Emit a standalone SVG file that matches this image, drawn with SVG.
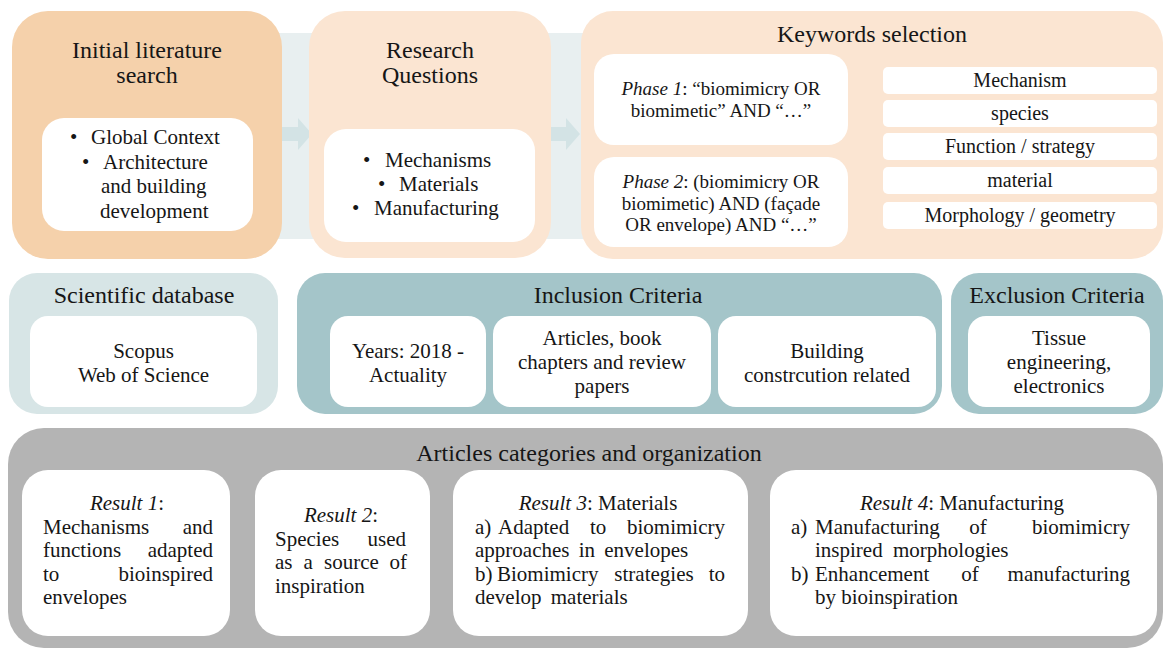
<svg xmlns="http://www.w3.org/2000/svg" width="1163" height="650" viewBox="0 0 1163 650">
<style>
text { font-family: "Liberation Serif", "DejaVu Serif", serif; fill: #161616; }
.tt { font-size: 24px; }
.bd { font-size: 21px; }
.kw { font-size: 20px; }
.ph { font-size: 19px; }
.rs { font-size: 21px; }
.c { text-anchor: middle; }
.e { text-anchor: end; }
.i { font-style: italic; }
.w { fill: #ffffff; }
.pk1 { fill: #f5d1ab; }
.pk2 { fill: #fbe5d2; }
.tl1 { fill: #d7e5e6; }
.tl2 { fill: #a4c5c9; }
.gr { fill: #b4b4b4; }
.br { stroke: #9cc3c7; stroke-width: 2; fill: none; }
.ar { fill: #d3e3e5; }
</style>

<!-- background band -->
<rect x="270" y="33" width="330" height="206" fill="#e8eff0"/>

<g id="connectors">
  <polygon class="ar" points="282,127 298,127 298,118 312,134 298,150 298,141 282,141"/>
  <polygon class="ar" points="551,127 566,127 566,118 580,134 566,150 566,141 551,141"/>
  <path class="br" d="M848,100 H866 M848,203 H866 M866,80 V215 M866,80 H883 M866,113 H883 M866,147 H883 M866,180 H883 M866,215 H883"/>
</g>

<g id="initial-literature">
  <rect class="pk1" x="12" y="11" width="270" height="248" rx="36"/>
  <text class="tt c" x="147" y="58">Initial literature</text>
  <text class="tt c" x="147" y="83">search</text>
  <rect class="w" x="42" y="118" width="211" height="113" rx="22"/>
  <text class="bd" x="70" y="144">•</text>
  <text class="bd" x="91" y="144">Global Context</text>
  <text class="bd" x="82" y="169">•</text>
  <text class="bd" x="103" y="169">Architecture</text>
  <text class="bd" x="101" y="193">and building</text>
  <text class="bd" x="100" y="218">development</text>
</g>

<g id="research-questions">
  <rect class="pk2" x="309" y="11" width="242" height="247" rx="36"/>
  <text class="tt c" x="430" y="58">Research</text>
  <text class="tt c" x="430" y="83">Questions</text>
  <rect class="w" x="324" y="129" width="211" height="113" rx="22"/>
  <text class="bd" x="363" y="167">•</text>
  <text class="bd" x="385" y="167">Mechanisms</text>
  <text class="bd" x="378" y="191">•</text>
  <text class="bd" x="399" y="191">Materials</text>
  <text class="bd" x="352" y="215">•</text>
  <text class="bd" x="374" y="215">Manufacturing</text>
</g>

<g id="keywords-selection">
  <rect class="pk2" x="581" y="11" width="582" height="248" rx="32"/>
  <text class="tt c" x="872" y="42">Keywords selection</text>
</g>

<g id="phase1">
  <rect class="w" x="594" y="54" width="254" height="91" rx="20"/>
  <text class="ph c" x="721" y="95"><tspan class="i">Phase 1</tspan>: “biomimicry OR</text>
  <text class="ph c" x="721" y="117">biomimetic” AND “…”</text>
</g>

<g id="phase2">
  <rect class="w" x="594" y="157" width="254" height="90" rx="20"/>
  <text class="ph c" x="721" y="188"><tspan class="i">Phase 2</tspan>: (biomimicry OR</text>
  <text class="ph c" x="721" y="209.5">biomimetic) AND (façade</text>
  <text class="ph c" x="721" y="231">OR envelope) AND “…”</text>
</g>

<g id="kw-mechanism">
  <rect class="w" x="883" y="67" width="274" height="27" rx="5"/>
  <text class="kw c" x="1020" y="87">Mechanism</text>
</g>
<g id="kw-species">
  <rect class="w" x="883" y="100" width="274" height="27" rx="5"/>
  <text class="kw c" x="1020" y="119.5">species</text>
</g>
<g id="kw-function">
  <rect class="w" x="883" y="133" width="274" height="27" rx="5"/>
  <text class="kw c" x="1020" y="153">Function / strategy</text>
</g>
<g id="kw-material">
  <rect class="w" x="883" y="167" width="274" height="27" rx="5"/>
  <text class="kw c" x="1020" y="186.5">material</text>
</g>
<g id="kw-morphology">
  <rect class="w" x="883" y="202" width="274" height="27" rx="5"/>
  <text class="kw c" x="1020" y="221.5">Morphology / geometry</text>
</g>

<g id="scientific-database">
  <rect class="tl1" x="9" y="273" width="269" height="141" rx="28"/>
  <text class="tt c" x="144" y="303">Scientific database</text>
  <rect class="w" x="30" y="316" width="227" height="91" rx="18"/>
  <text class="bd c" x="143.5" y="358">Scopus</text>
  <text class="bd c" x="143.5" y="382">Web of Science</text>
</g>

<g id="inclusion-criteria">
  <rect class="tl2" x="297" y="273" width="645" height="141" rx="28"/>
  <text class="tt c" x="618" y="303">Inclusion Criteria</text>
</g>
<g id="inc-years">
  <rect class="w" x="330" y="316" width="156" height="91" rx="18"/>
  <text class="bd c" x="408" y="358">Years: 2018 -</text>
  <text class="bd c" x="408" y="382">Actuality</text>
</g>
<g id="inc-articles">
  <rect class="w" x="493" y="316" width="218" height="91" rx="18"/>
  <text class="bd c" x="602" y="345">Articles, book</text>
  <text class="bd c" x="602" y="369">chapters and review</text>
  <text class="bd c" x="602" y="393">papers</text>
</g>
<g id="inc-building">
  <rect class="w" x="718" y="316" width="218" height="91" rx="18"/>
  <text class="bd c" x="827" y="358">Building</text>
  <text class="bd c" x="827" y="382">constrcution related</text>
</g>

<g id="exclusion-criteria">
  <rect class="tl2" x="951" y="273" width="212" height="141" rx="28"/>
  <text class="tt c" x="1057" y="303">Exclusion Criteria</text>
  <rect class="w" x="968" y="316" width="182" height="91" rx="18"/>
  <text class="bd c" x="1059" y="345">Tissue</text>
  <text class="bd c" x="1059" y="369">engineering,</text>
  <text class="bd c" x="1059" y="393">electronics</text>
</g>

<g id="articles-categories">
  <rect class="gr" x="8" y="428" width="1155" height="220" rx="36"/>
  <text class="tt c" x="589" y="461">Articles categories and organization</text>
</g>

<g id="result1">
  <rect class="w" x="22" y="470" width="208" height="166" rx="26"/>
  <text class="rs c" x="127" y="510"><tspan class="i">Result 1</tspan>:</text>
  <text class="rs" x="43" y="533.5">Mechanisms</text>
  <text class="rs e" x="213" y="533.5">and</text>
  <text class="rs" x="43" y="557">functions</text>
  <text class="rs e" x="213" y="557">adapted</text>
  <text class="rs" x="43" y="580.5">to</text>
  <text class="rs e" x="213" y="580.5">bioinspired</text>
  <text class="rs" x="43" y="604">envelopes</text>
</g>

<g id="result2">
  <rect class="w" x="255" y="470" width="175" height="166" rx="26"/>
  <text class="rs c" x="341" y="522"><tspan class="i">Result 2</tspan>:</text>
  <text class="rs" x="275" y="545.5">Species</text>
  <text class="rs e" x="406" y="545.5">used</text>
  <text class="rs" x="275" y="569">as</text>
  <text class="rs" x="303.5" y="569">a</text>
  <text class="rs" x="324" y="569">source</text>
  <text class="rs e" x="407" y="569">of</text>
  <text class="rs" x="275" y="592.5">inspiration</text>
</g>

<g id="result3">
  <rect class="w" x="453" y="470" width="295" height="166" rx="26"/>
  <text class="rs c" x="598" y="510"><tspan class="i">Result 3</tspan>: Materials</text>
  <text class="rs" x="475" y="533.5">a)</text>
  <text class="rs" x="498" y="533.5">Adapted</text>
  <text class="rs" x="590" y="533.5">to</text>
  <text class="rs e" x="725" y="533.5">biomimicry</text>
  <text class="rs" x="475" y="557" word-spacing="4">approaches in envelopes</text>
  <text class="rs" x="475" y="580.5">b)</text>
  <text class="rs" x="497" y="580.5">Biomimicry</text>
  <text class="rs c" x="654" y="580.5">strategies</text>
  <text class="rs e" x="725" y="580.5">to</text>
  <text class="rs" x="475" y="604" word-spacing="4">develop materials</text>
</g>

<g id="result4">
  <rect class="w" x="770" y="470" width="387" height="166" rx="26"/>
  <text class="rs c" x="962" y="510"><tspan class="i">Result 4</tspan>: Manufacturing</text>
  <text class="rs" x="791" y="533.5">a)</text>
  <text class="rs" x="815" y="533.5">Manufacturing</text>
  <text class="rs c" x="978" y="533.5">of</text>
  <text class="rs e" x="1130" y="533.5">biomimicry</text>
  <text class="rs" x="815" y="557">inspired</text>
  <text class="rs" x="893" y="557">morphologies</text>
  <text class="rs" x="791" y="580.5">b)</text>
  <text class="rs" x="815" y="580.5">Enhancement</text>
  <text class="rs c" x="970" y="580.5">of</text>
  <text class="rs e" x="1130" y="580.5">manufacturing</text>
  <text class="rs" x="815" y="604">by bioinspiration</text>
</g>
</svg>
